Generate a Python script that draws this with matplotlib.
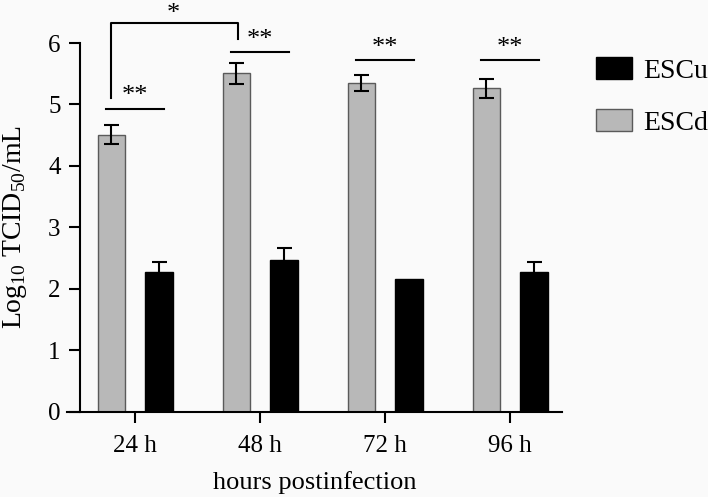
import numpy as np
import matplotlib.pyplot as plt
from matplotlib.patches import Patch

plt.rcParams['font.family'] = ['Liberation Serif', 'DejaVu Serif']
plt.rcParams['mathtext.fontset'] = 'custom'
plt.rcParams['mathtext.rm'] = 'Liberation Serif'

# data
times = ['24 h', '48 h', '72 h', '96 h']
escd = [4.51, 5.51, 5.35, 5.26]
escd_err = [0.16, 0.17, 0.13, 0.16]
escu = [2.27, 2.47, 2.16, 2.27]
escu_err = [0.16, 0.20, 0.0, 0.16]
# significance marks: (group, line height, text)
sig = [(0, 4.93, '**'), (1, 5.85, '**'), (2, 5.72, '**'), (3, 5.72, '**')]

fig = plt.figure(figsize=(7.08, 4.97), dpi=100)
fig.patch.set_facecolor('#fafafa')
ax = fig.add_axes([67/708, 85.5/497, 495/708, 368.5/497])
ax.set_facecolor('#fafafa')

x = np.arange(len(times))
w = 0.22
off = 0.19
ek = dict(fmt='none', ecolor='black', elinewidth=1.5, capsize=5.4, capthick=1.5, zorder=3)
ax.bar(x - off, escd, w, color='#b8b8b8', edgecolor='#5a5a5a', linewidth=1.0, zorder=2)
ax.bar(x + off, escu, w, color='black', edgecolor='black', linewidth=1.0, zorder=2)
ax.errorbar(x - off, escd, yerr=escd_err, **ek)
has = np.array(escu_err) > 0
ax.errorbar((x + off)[has], np.array(escu)[has], yerr=np.array(escu_err)[has], **ek)

ax.set_xlim(-0.544, 3.416)
ax.set_ylim(0, 6)
ax.set_xticks(x)
ax.set_xticklabels(times)
ax.set_yticks(range(7))
for s in ['top', 'right']:
    ax.spines[s].set_visible(False)
ax.spines['left'].set_position(('data', -0.44))
ax.spines['left'].set_linewidth(1.5)
ax.spines['bottom'].set_linewidth(1.5)
ax.tick_params(length=8, width=1.5, labelsize=18)
ax.tick_params(axis='x', pad=9)
ax.tick_params(axis='y', pad=6)

ax.set_xlabel('hours postinfection', fontsize=19, labelpad=10)
ax.set_ylabel(r'Log$_{\mathrm{10}}$ TCID$_{\mathrm{50}}$/mL', fontsize=20, labelpad=14)

# significance lines
for g, h, t in sig:
    ax.plot([g - 0.23, g + 0.23], [h, h], color='black', lw=1.5, clip_on=False)
    ax.text(g, h + 0.02, t, ha='center', va='bottom', fontsize=19)

# bracket between 24 h and 48 h ESCd
ax.plot([-0.19, -0.19, 0.82, 0.82], [5.11, 6.32, 6.32, 6.06], color='black',
        lw=1.5, clip_on=False)
ax.text(0.31, 6.3, '*', ha='center', va='bottom', fontsize=19)

handles = [Patch(facecolor='black', edgecolor='black'),
           Patch(facecolor='#b8b8b8', edgecolor='#5a5a5a')]
fig.legend(handles, ['ESCu', 'ESCd'], loc='upper left',
           bbox_to_anchor=(596/708, 1 - 57/497), frameon=False, fontsize=20,
           handlelength=1.3, handleheight=0.86, handletextpad=0.4,
           labelspacing=0.9, borderpad=0, borderaxespad=0)

fig.savefig('out.png', dpi=100, facecolor=fig.get_facecolor())
